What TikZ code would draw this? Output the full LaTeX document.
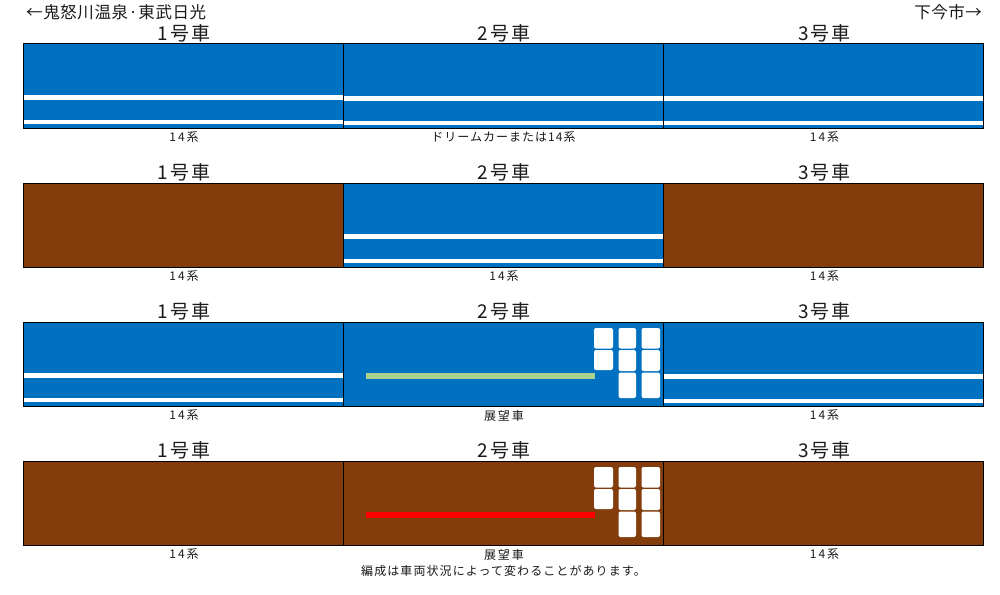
\documentclass[tikz,border=0pt]{standalone}
\usepackage{fontspec}
\setmainfont{Noto Sans CJK JP}
\definecolor{tblue}{HTML}{0070C0}
\definecolor{tbrown}{HTML}{833C0B}
\definecolor{tgreen}{HTML}{A9D18E}
\definecolor{tink}{HTML}{1A1A1A}
\tikzset{
  x=1pt,y=-1pt,
  carbody/.style={draw=black,line width=1pt,minimum width=320pt,minimum height=84.5pt,inner sep=0pt,outer sep=0pt,anchor=north west},
  carlabel/.style={font=\fontsize{19}{19}\selectfont,text=tink,inner sep=0pt,anchor=center},
  typelabel/.style={font=\fontsize{12}{12}\selectfont,text=tink,inner sep=0pt,anchor=center},
  dirlabel/.style={font=\fontsize{16.5}{16.5}\selectfont,text=tink,inner sep=0pt},
  stripe/.style={fill=white,draw=none},
  winpane/.style={fill=white,draw=none,rounded corners=2pt}
}
\newcommand{\tsp}[2]{\addfontfeatures{LetterSpace=#1}#2}
\newcommand{\carrow}[2]{%
 \node[carlabel] (l1#2) at (184,#1-10.5) {\tsp{9.5}{1号車}};
 \node[carlabel] (l2#2) at (504,#1-10.5) {\tsp{9.5}{2号車}};
 \node[carlabel] (l3#2) at (824.5,#1-10.5) {\tsp{9.5}{3号車}};
}
\newcommand{\stripes}[3]{%
 \fill[stripe] (#1+0.5,#2+52+#3) rectangle (#1+319.5,#2+56.5+#3);
 \fill[stripe] (#1+0.5,#2+77+#3) rectangle (#1+319.5,#2+80.5+#3);
}
\newcommand{\windows}[1]{%
 \fill[winpane] (594,#1+6) rectangle (613,#1+26.5);
 \fill[winpane] (594,#1+28) rectangle (613,#1+48);
 \fill[winpane] (618.5,#1+6) rectangle (636,#1+26.5);
 \fill[winpane] (618.5,#1+28) rectangle (636,#1+49);
 \fill[winpane] (618.5,#1+50.5) rectangle (636,#1+76);
 \fill[winpane] (641.5,#1+6) rectangle (660,#1+26.5);
 \fill[winpane] (641.5,#1+28) rectangle (660,#1+49);
 \fill[winpane] (641.5,#1+50.5) rectangle (660,#1+76);
}
\begin{document}
\begin{tikzpicture}
\useasboundingbox[fill=white] (0,0) rectangle (1000,594);
\node[dirlabel,anchor=west] (dirl) at (26,12) {\tsp{3.5}{←鬼怒川温泉·東武日光}};
\node[dirlabel,anchor=east] (dirr) at (982,12) {\tsp{3}{下今市→}};
% row 1
\carrow{44}{a}
\node[carbody,fill=tblue] (a1) at (23,44) {};
\node[carbody,fill=tblue] (a2) at (343,44) {};
\node[carbody,fill=tblue] (a3) at (663,44) {};
\stripes{23}{44}{-1}\stripes{343}{44}{0}\stripes{663}{44}{0}
\node[typelabel] (ta1) at (184,137.5) {\tsp{16}{14系}};
\node[typelabel] (ta2) at (503.5,137.5) {\tsp{8.5}{ドリームカーまたは14系}};
\node[typelabel] (ta3) at (824.5,137.5) {\tsp{16}{14系}};
% row 2
\carrow{183}{b}
\node[carbody,fill=tbrown] (b1) at (23,183) {};
\node[carbody,fill=tblue] (b2) at (343,183) {};
\node[carbody,fill=tbrown] (b3) at (663,183) {};
\stripes{343}{183}{-1}
\node[typelabel] (tb1) at (184,276.5) {\tsp{16}{14系}};
\node[typelabel] (tb2) at (504,276.5) {\tsp{16}{14系}};
\node[typelabel] (tb3) at (824.5,276.5) {\tsp{16}{14系}};
% row 3
\carrow{322}{c}
\node[carbody,fill=tblue] (c1) at (23,322) {};
\node[carbody,fill=tblue] (c2) at (343,322) {};
\node[carbody,fill=tblue] (c3) at (663,322) {};
\stripes{23}{322}{-1}\stripes{663}{322}{0}
\windows{322}
\fill[tgreen] (366,373) rectangle (595,379);
\node[typelabel] (tc1) at (184,415.5) {\tsp{16}{14系}};
\node[typelabel] (tc2) at (504,415.5) {\tsp{16}{展望車}};
\node[typelabel] (tc3) at (824.5,415.5) {\tsp{16}{14系}};
% row 4
\carrow{461}{d}
\node[carbody,fill=tbrown] (d1) at (23,461) {};
\node[carbody,fill=tbrown] (d2) at (343,461) {};
\node[carbody,fill=tbrown] (d3) at (663,461) {};
\windows{461}
\fill[red] (366,512) rectangle (595,518);
\node[typelabel] (td1) at (184,554.5) {\tsp{16}{14系}};
\node[typelabel] (td2) at (504,554.5) {\tsp{16}{展望車}};
\node[typelabel] (td3) at (824.5,554.5) {\tsp{16}{14系}};
\node[typelabel] (note) at (503.5,570.5) {\tsp{9}{編成は車両状況によって変わることがあります。}};
\end{tikzpicture}
\end{document}
